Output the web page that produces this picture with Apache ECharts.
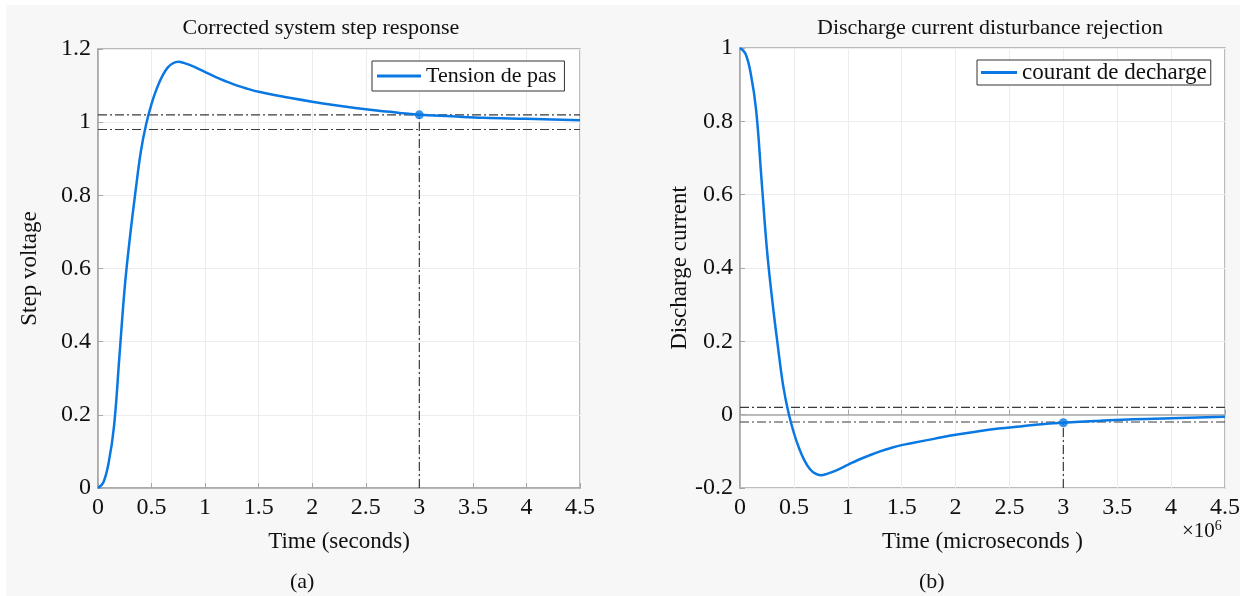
<!DOCTYPE html>
<html>
<head>
<meta charset="utf-8">
<script src="https://cdn.jsdelivr.net/npm/echarts@6/dist/echarts.min.js"></script>
<style>
html,body{margin:0;padding:0;background:#ffffff;}
#c{width:1245px;height:596px;}
</style>
</head>
<body>
<div id="c"></div>
<script>
// ---- data ----
const xTicks = [0, 0.5, 1, 1.5, 2, 2.5, 3, 3.5, 4, 4.5];
const timeA = [0,0.05,0.1,0.15,0.2,0.25,0.3,0.35,0.4,0.45,0.5,0.55,0.6,0.65,0.7,0.75,0.8,0.9,1.0,1.1,1.2,1.3,1.4,1.5,1.6,1.8,2.0,2.2,2.4,2.6,2.8,3.0,3.3,3.6,4.0,4.5];
const stepVoltage = [0,0.015,0.07,0.17,0.36,0.55,0.69,0.81,0.92,0.995,1.05,1.093,1.126,1.149,1.161,1.165,1.162,1.151,1.137,1.123,1.111,1.1,1.091,1.083,1.077,1.066,1.056,1.047,1.039,1.032,1.026,1.02,1.016,1.012,1.009,1.005];
const timeB = [0,0.05,0.1,0.15,0.2,0.25,0.3,0.35,0.4,0.45,0.5,0.55,0.6,0.65,0.7,0.75,0.8,0.9,1.0,1.1,1.2,1.3,1.4,1.5,1.6,1.8,2.0,2.2,2.4,2.6,2.8,3.0,3.3,3.6,4.0,4.5];
const dischargeCurrent = [1,0.985,0.93,0.83,0.64,0.45,0.31,0.19,0.08,0.005,-0.05,-0.093,-0.126,-0.149,-0.161,-0.165,-0.162,-0.151,-0.137,-0.123,-0.111,-0.1,-0.091,-0.083,-0.077,-0.066,-0.055,-0.046,-0.038,-0.032,-0.026,-0.022,-0.017,-0.013,-0.010,-0.006];
const settleTime = 3;
const bandA = [0.98, 1.02];
const bandB = [-0.02, 0.02];
const markA = 1.02;
const markB = -0.022;
const yTicksA = [0, 0.2, 0.4, 0.6, 0.8, 1, 1.2];
const yTicksB = [-0.2, 0, 0.2, 0.4, 0.6, 0.8, 1];

const FONT = '"Liberation Serif","DejaVu Serif",serif';
const BLUE = '#0a78e2';
const DASHDOT = [9, 3, 2, 3];

function zip(xs, ys){ return xs.map((x,i)=>[x, ys[i]]); }
const fmt = v => String(+(+v).toFixed(2));

function xAxisCfg(gi, name){
  return {
    type:'value', gridIndex: gi, min: xTicks[0], max: xTicks[xTicks.length-1], interval: 0.5,
    name: name, nameLocation:'middle', nameGap: 42,
    nameTextStyle:{fontFamily:FONT, fontSize:23, color:'#111'},
    axisLine:{show:true, lineStyle:{color:'#a6a6a6', width:1.5}},
    axisTick:{show:true, inside:true, length:5, lineStyle:{color:'#a6a6a6'}},
    axisLabel:{fontFamily:FONT, fontSize:24, color:'#111', margin:8, formatter: fmt},
    splitLine:{show:true, lineStyle:{color:'#ececec', width:1}}
  };
}
function yAxisCfg(gi, name, min, max, gap){
  return {
    type:'value', gridIndex: gi, min: min, max: max, interval: 0.2,
    name: name, nameLocation:'middle', nameGap: gap,
    nameTextStyle:{fontFamily:FONT, fontSize:23, color:'#111'},
    axisLine:{show:true, lineStyle:{color:'#a6a6a6', width:1.5}},
    axisTick:{show:true, inside:true, length:5, lineStyle:{color:'#a6a6a6'}},
    axisLabel:{fontFamily:FONT, fontSize:24, color:'#111', margin:7, formatter: fmt},
    splitLine:{show:true, lineStyle:{color:'#ececec', width:1}}
  };
}
function refLine(xi, yi, pts){
  return {type:'line', xAxisIndex:xi, yAxisIndex:yi, data:pts, symbol:'none', silent:true,
    lineStyle:{color:'#3a3a3a', width:1.2, type:DASHDOT}, z:3};
}

const chart = echarts.init(document.getElementById('c'), null, {renderer:'canvas'});
const option = {
  animation:false,
  backgroundColor:'#ffffff',
  graphic:[
    {type:'rect', left:6, top:5, shape:{width:1234, height:591}, style:{fill:'#f7f7f7'}, z:-10, silent:true},
    {type:'text', left:290, top:571, style:{text:'(a)', font:'22px '+FONT, fill:'#111'}},
    {type:'text', left:919, top:571, style:{text:'(b)', font:'22px '+FONT, fill:'#111'}},
    {type:'text', left:1182, top:519, style:{
      text:'×10{s|6}', font:'21px '+FONT, fill:'#111',
      rich:{s:{fontSize:14, fontFamily:FONT, fill:'#111', verticalAlign:'top', padding:[0,0,10,0]}}
    }}
  ],
  title:[
    {text:'Corrected system step response', left:316, top:12, textAlign:'center',
      textStyle:{fontFamily:FONT, fontSize:22, fontWeight:'normal', color:'#111'}},
    {text:'Discharge current disturbance rejection', left:985, top:12, textAlign:'center',
      textStyle:{fontFamily:FONT, fontSize:22, fontWeight:'normal', color:'#111'}}
  ],
  legend:[
    {data:['Tension de pas'], left:372, top:61, icon:'rect', itemWidth:44, itemHeight:3, itemGap:5,
      padding:[4,8,4,5], backgroundColor:'#ffffff', borderColor:'#333', borderWidth:1,
      textStyle:{fontFamily:FONT, fontSize:22, color:'#111'}},
    {data:['courant de decharge'], left:977, top:60, icon:'rect', itemWidth:36, itemHeight:3, itemGap:3,
      padding:[1,4,1,4], backgroundColor:'#ffffff', borderColor:'#333', borderWidth:1,
      textStyle:{fontFamily:FONT, fontSize:23, color:'#111'}}
  ],
  grid:[
    {left:98, right:665, top:49, bottom:108, show:true, backgroundColor:'#ffffff', borderColor:'#a6a6a6', borderWidth:1.5},
    {left:740, right:20, top:48, bottom:108, show:true, backgroundColor:'#ffffff', borderColor:'#a6a6a6', borderWidth:1.5}
  ],
  xAxis:[ xAxisCfg(0,'Time (seconds)'), xAxisCfg(1,'Time (microseconds )') ],
  yAxis:[ yAxisCfg(0,'Step voltage', yTicksA[0], yTicksA[yTicksA.length-1], 57),
          yAxisCfg(1,'Discharge current', yTicksB[0], yTicksB[yTicksB.length-1], 46) ],
  series:[
    refLine(0,0,[[0,bandA[1]],[4.5,bandA[1]]]),
    refLine(0,0,[[0,bandA[0]],[4.5,bandA[0]]]),
    refLine(0,0,[[settleTime,0],[settleTime,markA]]),
    refLine(1,1,[[0,bandB[1]],[4.5,bandB[1]]]),
    refLine(1,1,[[0,bandB[0]],[4.5,bandB[0]]]),
    refLine(1,1,[[settleTime,-0.2],[settleTime,markB]]),
    {name:'Tension de pas', type:'line', xAxisIndex:0, yAxisIndex:0, data:zip(timeA, stepVoltage),
      smooth:0.4, symbol:'none', lineStyle:{color:BLUE, width:2.5}, itemStyle:{color:BLUE}, z:5},
    {name:'courant de decharge', type:'line', xAxisIndex:1, yAxisIndex:1, data:zip(timeB, dischargeCurrent),
      smooth:0.4, symbol:'none', lineStyle:{color:BLUE, width:2.5}, itemStyle:{color:BLUE}, z:5},
    {type:'scatter', xAxisIndex:0, yAxisIndex:0, data:[[settleTime, markA]], symbolSize:9, itemStyle:{color:BLUE}, z:6, silent:true},
    {type:'scatter', xAxisIndex:1, yAxisIndex:1, data:[[settleTime, markB]], symbolSize:9, itemStyle:{color:BLUE}, z:6, silent:true}
  ]
};
chart.setOption(option);
</script>
</body>
</html>
